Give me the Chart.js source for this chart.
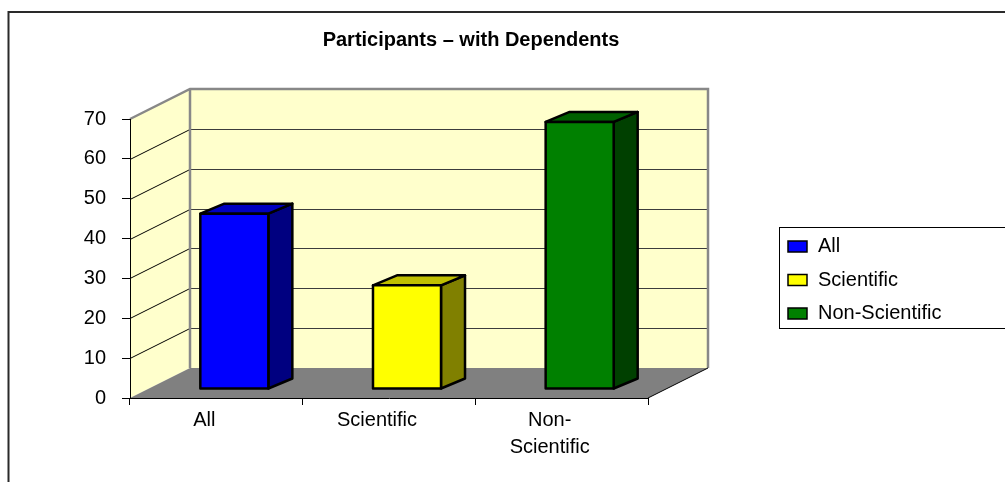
<!DOCTYPE html>
<html>
<head>
<meta charset="utf-8">
<script src="https://cdn.jsdelivr.net/npm/chart.js@4"></script>
<style>
  html, body { margin: 0; padding: 0; background: #fff; }
  #wrap { width: 1005px; height: 482px; }
</style>
</head>
<body>
<div id="wrap"><canvas id="chart" width="1005" height="482"></canvas></div>
<script>
const chartTitle = "Participants – with Dependents";
const categories = ["All", "Scientific", "Non-Scientific"];
const tickLabels = [["All"], ["Scientific"], ["Non-", "Scientific"]];
const values = [44, 26, 67];

// colours for the faces of each box: front, top, side
const frontColors = ["#0000ff", "#ffff00", "#008000"];
const topColors = ["#0000c0", "#c0c000", "#006000"];
const sideColors = ["#000080", "#808000", "#004000"];

const FONT = "'Liberation Sans', Arial, sans-serif";
const depth = { dx: 60, dy: -30 };     // floor / wall depth
const barShift = { dx: 18, dy: -9 };   // where the bar sits in the depth
const barDepth = { dx: 24, dy: -10 };  // thickness of each bar

const threeD = {
  id: "threeD",
  beforeDraw(chart) {
    const ctx = chart.ctx;
    const a = chart.chartArea;
    const ys = chart.scales.y;
    const L = a.left, R = a.right, T = a.top, B = a.bottom;
    const dx = depth.dx, dy = depth.dy;
    ctx.save();

    // left side wall
    ctx.fillStyle = "#ffffcc";
    ctx.beginPath();
    ctx.moveTo(L, T); ctx.lineTo(L + dx, T + dy);
    ctx.lineTo(L + dx, B + dy); ctx.lineTo(L, B);
    ctx.closePath(); ctx.fill();

    // back wall
    ctx.fillRect(L + dx, T + dy, R - L, B - T);

    // floor
    ctx.fillStyle = "#808080";
    ctx.beginPath();
    ctx.moveTo(L, B); ctx.lineTo(R, B);
    ctx.lineTo(R + dx, B + dy); ctx.lineTo(L + dx, B + dy);
    ctx.closePath(); ctx.fill();

    // gridlines on back wall and side wall
    ctx.lineWidth = 1;
    ys.ticks.forEach(t => {
      if (t.value <= ys.min || t.value >= ys.max) return;
      const py = Math.round(ys.getPixelForValue(t.value)) + 0.5;
      ctx.strokeStyle = "#3c3c3c";
      ctx.beginPath();
      ctx.moveTo(L + dx, py + dy); ctx.lineTo(R + dx, py + dy);
      ctx.stroke();
      ctx.strokeStyle = "#000";
      ctx.beginPath();
      ctx.moveTo(L, py); ctx.lineTo(L + dx, py + dy);
      ctx.stroke();
    });

    // wall edges
    ctx.strokeStyle = "#888888";
    ctx.lineWidth = 2.5;
    ctx.beginPath();
    ctx.moveTo(L, T); ctx.lineTo(L + dx, T + dy);
    ctx.lineTo(R + dx, T + dy); ctx.lineTo(R + dx, B + dy);
    ctx.moveTo(L + dx, T + dy); ctx.lineTo(L + dx, B + dy);
    ctx.stroke();

    // floor right edge
    ctx.strokeStyle = "#000";
    ctx.lineWidth = 1;
    ctx.beginPath();
    ctx.moveTo(R, B); ctx.lineTo(R + dx, B + dy);
    ctx.stroke();
    ctx.restore();
  },
  afterDatasetsDraw(chart) {
    const ctx = chart.ctx;
    const meta = chart.getDatasetMeta(0);
    ctx.save();
    ctx.lineWidth = 2.5;
    ctx.lineJoin = "round";
    ctx.strokeStyle = "#000";
    meta.data.forEach((bar, i) => {
      const p = bar.getProps(["x", "y", "base", "width"], true);
      const l = p.x - p.width / 2 + barShift.dx;
      const r = p.x + p.width / 2 + barShift.dx;
      const t = p.y + barShift.dy;
      const b = p.base + barShift.dy;
      const ddx = barDepth.dx, ddy = barDepth.dy;
      // side
      ctx.fillStyle = sideColors[i];
      ctx.beginPath();
      ctx.moveTo(r, t); ctx.lineTo(r + ddx, t + ddy);
      ctx.lineTo(r + ddx, b + ddy); ctx.lineTo(r, b);
      ctx.closePath(); ctx.fill(); ctx.stroke();
      // top
      ctx.fillStyle = topColors[i];
      ctx.beginPath();
      ctx.moveTo(l, t); ctx.lineTo(r, t);
      ctx.lineTo(r + ddx, t + ddy); ctx.lineTo(l + ddx, t + ddy);
      ctx.closePath(); ctx.fill(); ctx.stroke();
      // front
      ctx.fillStyle = frontColors[i];
      ctx.beginPath();
      ctx.rect(l, t, r - l, b - t);
      ctx.fill(); ctx.stroke();
    });
    ctx.restore();
  },
  afterDraw(chart) {
    const ctx = chart.ctx;
    ctx.save();
    // outer frame
    ctx.strokeStyle = "#2a2a2a";
    ctx.lineWidth = 2;
    ctx.beginPath();
    ctx.moveTo(8.5, 490); ctx.lineTo(8.5, 12); ctx.lineTo(1010, 12);
    ctx.stroke();

    // title
    ctx.fillStyle = "#000";
    ctx.font = "bold 20px " + FONT;
    ctx.textAlign = "center";
    ctx.textBaseline = "middle";
    ctx.fillText(chartTitle, 471, 40);

    // legend
    ctx.strokeStyle = "#000";
    ctx.lineWidth = 1;
    ctx.strokeRect(779.5, 227.5, 240, 101);
    ctx.font = "20px " + FONT;
    ctx.textAlign = "left";
    categories.forEach((c, i) => {
      const cy = 246.5 + i * 33.5;
      ctx.fillStyle = frontColors[i];
      ctx.fillRect(788, cy - 5.5, 19, 11);
      ctx.lineWidth = 1.5;
      ctx.strokeRect(788, cy - 5.5, 19, 11);
      ctx.fillStyle = "#000";
      ctx.fillText(c, 818, cy);
    });
    ctx.restore();
  }
};

new Chart(document.getElementById("chart"), {
  type: "bar",
  data: {
    labels: tickLabels,
    datasets: [{
      label: chartTitle,
      data: values,
      backgroundColor: "rgba(0,0,0,0)",
      borderWidth: 0,
      categoryPercentage: 1,
      barPercentage: 0.394
    }]
  },
  options: {
    responsive: false,
    animation: false,
    layout: { padding: { top: 119, right: 357, left: 0, bottom: 0 } },
    plugins: {
      legend: { display: false },
      title: { display: false },
      tooltip: { enabled: false }
    },
    scales: {
      x: {
        grid: { offset: true, drawOnChartArea: false, tickLength: 7, color: "#000" },
        border: { color: "#000" },
        ticks: {
          color: "#000",
          font: { family: FONT, size: 20, lineHeight: 1.35 },
          padding: 2,
          labelOffset: -12,
          maxRotation: 0,
          autoSkip: false
        },
        afterFit: s => { s.height = 84; }
      },
      y: {
        min: 0,
        max: 70,
        grid: { drawOnChartArea: false, tickLength: 8, color: "#000" },
        border: { color: "#000" },
        ticks: {
          stepSize: 10,
          color: "#000",
          font: { family: FONT, size: 20 },
          padding: 16
        },
        afterFit: s => { s.height; s.width = 130; }
      }
    }
  },
  plugins: [threeD]
});
</script>
</body>
</html>
